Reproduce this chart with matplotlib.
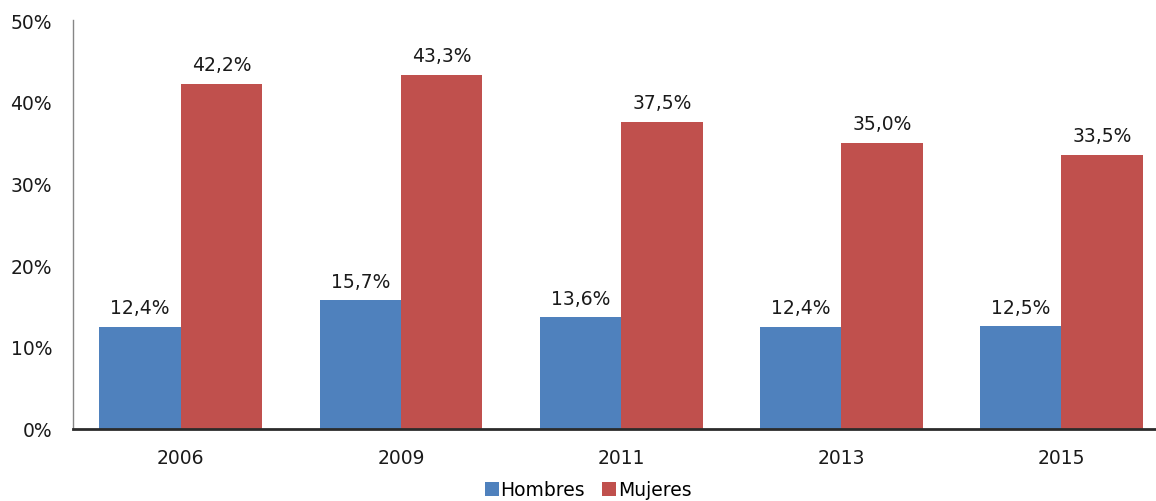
import matplotlib
matplotlib.use("Agg")
import matplotlib.pyplot as plt
import numpy as np

years = ["2006", "2009", "2011", "2013", "2015"]
hombres = [12.4, 15.7, 13.6, 12.4, 12.5]
mujeres = [42.2, 43.3, 37.5, 35.0, 33.5]
hombres_labels = ["12,4%", "15,7%", "13,6%", "12,4%", "12,5%"]
mujeres_labels = ["42,2%", "43,3%", "37,5%", "35,0%", "33,5%"]
yticks = [0, 10, 20, 30, 40, 50]
ytick_labels = ["0%", "10%", "20%", "30%", "40%", "50%"]

W, H = 1156, 502
fig = plt.figure(figsize=(W / 100, H / 100), dpi=100)
left_px, right_px, top_px, bottom_px = 73, 1156, 21, 429.5
ax = fig.add_axes([left_px / W, 1 - bottom_px / H, (right_px - left_px) / W, (bottom_px - top_px) / H])

fs = 13.5
x = np.arange(len(years))
bw = 0.37
c_h = "#4F81BD"
c_m = "#C0504D"
bh = ax.bar(x - bw / 2, hombres, bw, color=c_h, label="Hombres", zorder=2)
bm = ax.bar(x + bw / 2, mujeres, bw, color=c_m, label="Mujeres", zorder=2)

for xi, v, lab in zip(x - bw / 2, hombres, hombres_labels):
    ax.annotate(lab, (xi, v), xytext=(0, 7), textcoords="offset points",
                ha="center", va="bottom", fontsize=fs, color="#1a1a1a")
for xi, v, lab in zip(x + bw / 2, mujeres, mujeres_labels):
    ax.annotate(lab, (xi, v), xytext=(0, 7), textcoords="offset points",
                ha="center", va="bottom", fontsize=fs, color="#1a1a1a")

ax.set_xlim(-0.49, 4.43)
ax.set_ylim(0, 50)
ax.set_yticks(yticks)
ax.set_yticklabels(ytick_labels, fontsize=fs, color="#1a1a1a")
ax.set_xticks(x)
ax.set_xticklabels(years, fontsize=fs, color="#1a1a1a")
ax.tick_params(axis="both", length=0)
ax.tick_params(axis="y", pad=15)
ax.tick_params(axis="x", pad=14)

for s in ["top", "right"]:
    ax.spines[s].set_visible(False)
ax.spines["left"].set_color("#868686")
ax.spines["left"].set_linewidth(1.0)
ax.spines["bottom"].set_color("#2b2b2b")
ax.spines["bottom"].set_linewidth(2.0)

fig.legend(handles=[bh, bm], labels=["Hombres", "Mujeres"], loc="center",
           bbox_to_anchor=(588 / W, 1 - 491 / H), ncol=2, frameon=False,
           fontsize=fs, handlelength=0.75, handleheight=0.75,
           handletextpad=0.1, columnspacing=0.9, borderpad=0)

fig.savefig("out.png", dpi=100)
